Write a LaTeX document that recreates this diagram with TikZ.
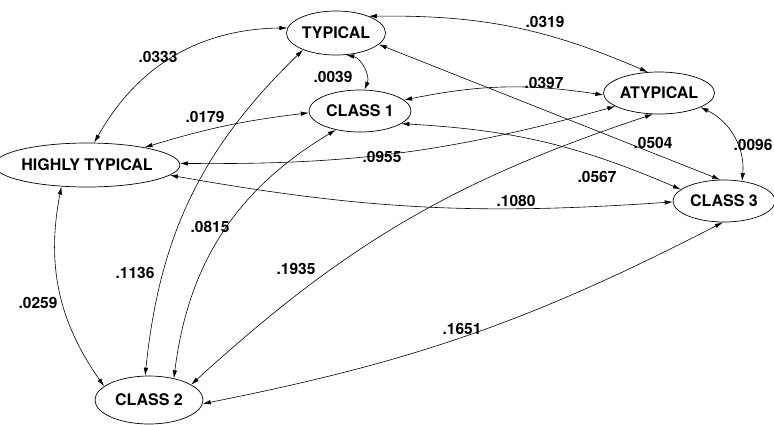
\documentclass[tikz,border=0pt]{standalone}
\usepackage{fontspec}
\setmainfont{TeX Gyre Heros}
\usetikzlibrary{shapes.geometric, arrows.meta}

\begin{document}
\begin{tikzpicture}[
            x=1pt, y=-1pt,
            state/.style ={ellipse, draw=black, line width=0.7pt, inner sep=0pt,
                           font=\fontsize{16}{19}\selectfont\bfseries},
            weight/.style={font=\fontsize{15.5}{18}\selectfont\bfseries, inner sep=0pt},
            link/.style  ={{Latex[length=8pt,width=4.5pt]}-{Latex[length=8pt,width=4.5pt]},
                           line width=0.6pt}
        ]
        \useasboundingbox (0,0) rectangle (774,424);

        \node[state, minimum width=99pt,  minimum height=44pt] (typ) at (336,33)  {TYPICAL};
        \node[state, minimum width=102pt, minimum height=42pt] (c1)  at (360,111) {CLASS 1};
        \node[state, minimum width=108pt, minimum height=42pt] (aty) at (659,93)  {ATYPICAL};
        \node[state, minimum width=152pt, minimum height=44pt] (ht)  at (87,165)  {HIGHLY TYPICAL};
        \node[state, minimum width=102pt, minimum height=42pt] (c3)  at (724,201) {CLASS 3};
        \node[state, minimum width=108pt, minimum height=48pt] (c2)  at (149,400) {CLASS 2};

        \draw[link] (typ.174) to[bend right=30] (ht.72);
        \draw[link] (typ.27)  to[bend left=12]  (aty.118);
        \draw[link] (typ.-65) to[bend left=50]  (c1.78);
        \draw[link] (ht.17)   to[bend left=5]   (c1.182);
        \draw[link] (c1.14)   to[bend left=10]  (aty.182);
        \draw[link] (ht.1)    to[bend right=8]  (aty.197);
        \draw[link] (typ.-15) -- (c3.100);
        \draw[link] (c1.-17)  to[bend left=10]  (c3.165);
        \draw[link] (aty.-19) to[bend left=35]  (c3.48);
        \draw[link] (ht.-7)   to[bend right=7]  (c3.181);
        \draw[link] (ht.220)  to[bend right=23] (c2.163);
        \draw[link] (typ.207) to[bend right=20] (c2.99);
        \draw[link] (c1.218)  to[bend right=26] (c2.41);
        \draw[link] (aty.254) to[bend right=12] (c2.20);
        \draw[link] (c3.267)  to[bend left=8]   (c2.-4);

        \node[weight] (w0333) at (158,57)  {.0333};
        \node[weight] (w0319) at (545,22)  {.0319};
        \node[weight] (w0039) at (333,77)  {.0039};
        \node[weight] (w0179) at (205,117) {.0179};
        \node[weight] (w0397) at (544,83)  {.0397};
        \node[weight] (w0955) at (382,157) {.0955};
        \node[weight] (w0504) at (653,143) {.0504};
        \node[weight] (w0096) at (753,145) {.0096};
        \node[weight] (w0567) at (597,177) {.0567};
        \node[weight] (w1080) at (516,201) {.1080};
        \node[weight] (w0259) at (38,303)  {.0259};
        \node[weight] (w1136) at (135,273) {.1136};
        \node[weight] (w0815) at (210,227) {.0815};
        \node[weight] (w1935) at (296,269) {.1935};
        \node[weight] (w1651) at (462,329) {.1651};
\end{tikzpicture}
\end{document}
